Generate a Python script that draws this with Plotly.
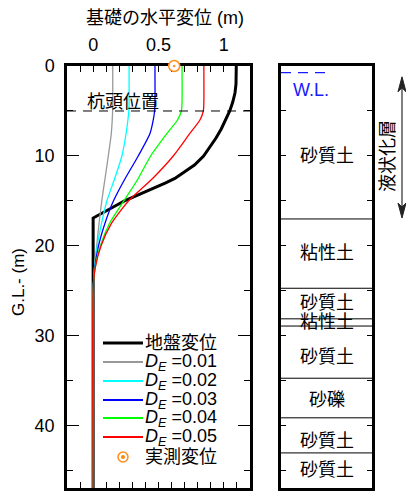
import plotly.graph_objects as go

# ---------------- data ----------------
depth_grid = [0, 4, 5, 6, 7.5, 10, 12.5, 15, 17.5, 20, 22.5, 25, 47]
de_values = ["0.01", "0.02", "0.03", "0.04", "0.05"]
disp_de001 = [0.150, 0.150, 0.149, 0.146, 0.139, 0.116, 0.091, 0.066, 0.045, 0.027, 0.010, 0.0, 0.0]
disp_de002 = [0.275, 0.275, 0.273, 0.266, 0.252, 0.220, 0.165, 0.105, 0.064, 0.031, 0.010, 0.0, 0.0]
disp_de003 = [0.473, 0.473, 0.470, 0.460, 0.435, 0.345, 0.245, 0.155, 0.090, 0.041, 0.012, 0.0, 0.0]
disp_de004 = [0.680, 0.680, 0.675, 0.645, 0.565, 0.440, 0.345, 0.235, 0.125, 0.055, 0.014, 0.0, 0.0]
disp_de005 = [0.847, 0.847, 0.843, 0.817, 0.740, 0.613, 0.455, 0.270, 0.140, 0.060, 0.015, 0.0, 0.0]
de_series = [disp_de001, disp_de002, disp_de003, disp_de004, disp_de005]
de_colors = ["#999999", "#00FFFF", "#0000FF", "#00FF00", "#FF0000"]

ground_depth = [0, 2, 3, 4, 5, 6, 7, 8, 9, 10, 11, 12, 12.5, 13, 13.5, 14, 14.5, 15, 15.5, 16, 16.5, 16.9, 47]
ground_disp = [1.095, 1.093, 1.085, 1.068, 1.045, 1.015, 0.980, 0.940, 0.895, 0.845, 0.775, 0.680,
               0.625, 0.555, 0.475, 0.395, 0.315, 0.240, 0.175, 0.115, 0.055, 0.0, 0.0]

measured_depth = [0]
measured_disp = [0.62]

pile_head_depth = 5
wl_depth = 0.74
boundary_depths = [17, 24.7, 28.1, 28.9, 34.7, 39.1, 43.0]
layer_names = ["砂質土", "粘性土", "砂質土", "粘性土", "砂質土", "砂礫", "砂質土", "砂質土"]
layer_label_depths = [10, 20.8, 26.3, 28.5, 32.3, 37.1, 41.7, 44.9]
liq_top, liq_bottom = 1.2, 16.9

x_ticks = [0, 0.5, 1]
x_tick_text = ["0", "0.5", "1"]
y_ticks = [0, 10, 20, 30, 40]
y_tick_text = ["0", "10", "20", "30", "40"]

legend_labels = ["地盤変位"] + ["<i>D</i><sub><i>E</i></sub> =" + v for v in de_values] + ["実測変位"]
legend_colors = ["black"] + de_colors
legend_widths = [3] + [2] * 5

FONT = "Liberation Sans, Arial, Noto Sans CJK JP, sans-serif"
FS = 18
DEPTH_MAX = 46.9
MARK_COLOR = "#FF8C1A"

# figure geometry (pixels)
W, H = 406, 491
PL, PR, PT, PB = 67, 372, 66, 488          # plot area in page pixels
PW, PH = PR - PL, PB - PT
ML, MT = PL, PT
MR, MB = W - PR, H - PB


def px(xp):
    return (xp - PL) / PW


def py(yp):
    return 1 - (yp - PT) / PH


fig = go.Figure()

# ground displacement
fig.add_trace(go.Scatter(x=ground_disp, y=ground_depth, mode="lines",
                         line=dict(color="black", width=3),
                         name="地盤変位", showlegend=False, xaxis="x", yaxis="y"))
for v, s, c in zip(de_values, de_series, de_colors):
    fig.add_trace(go.Scatter(x=s, y=depth_grid, mode="lines",
                             line=dict(color=c, width=1.3, shape="spline", smoothing=0.6),
                             name="D_E=" + v, showlegend=False,
                             xaxis="x", yaxis="y"))
# measured (white backing + symbol)
fig.add_trace(go.Scatter(x=measured_disp, y=measured_depth, mode="markers",
                         marker=dict(symbol="circle", size=11, color="white"),
                         showlegend=False, cliponaxis=False, hoverinfo="skip",
                         xaxis="x", yaxis="y"))
fig.add_trace(go.Scatter(x=measured_disp, y=measured_depth, mode="markers",
                         marker=dict(symbol="circle-open-dot", size=11, color=MARK_COLOR,
                                     line=dict(width=1.5, color=MARK_COLOR)),
                         name="実測変位", showlegend=False, cliponaxis=False,
                         xaxis="x", yaxis="y"))

# pile head dashed line
fig.add_trace(go.Scatter(x=[-0.2, 1.2], y=[pile_head_depth, pile_head_depth], mode="lines",
                         line=dict(color="black", width=1, dash="9px,7px"),
                         showlegend=False, hoverinfo="skip", xaxis="x", yaxis="y"))

# soil column boundaries
bx, by = [], []
for d in boundary_depths:
    bx += [0, 1, None]
    by += [d, d, None]
fig.add_trace(go.Scatter(x=bx, y=by, mode="lines", line=dict(color="black", width=1),
                         showlegend=False, hoverinfo="skip", xaxis="x2", yaxis="y2"))
# water level
fig.add_trace(go.Scatter(x=[0, 0.5], y=[wl_depth, wl_depth], mode="lines",
                         line=dict(color="#1a1aff", width=1.2, dash="10px,7px"),
                         showlegend=False, hoverinfo="skip", xaxis="x2", yaxis="y2"))

C = dict(xanchor="center", yanchor="middle", showarrow=False)
annotations = []
shapes = []
for name, d in zip(layer_names, layer_label_depths):
    annotations.append(dict(x=0.5, y=d, xref="x2", yref="y2", text=name,
                            font=dict(size=FS, color="black", family=FONT), **C))
annotations.append(dict(x=0.335, y=2.7, xref="x2", yref="y2", text="W.L.",
                        font=dict(size=FS, color="#1a1aff", family=FONT), **C))
annotations.append(dict(x=0.23, y=4.0, xref="x", yref="y", text="杭頭位置",
                        font=dict(size=FS, color="black", family=FONT), **C))

# liquefaction double arrow: shaft + two heads
AX = px(402)
shapes.append(dict(type="line", xref="paper", yref="y2", x0=AX, x1=AX,
                   y0=liq_top + 0.6, y1=liq_bottom - 0.6,
                   line=dict(color="#555555", width=1.5)))
shapes.append(dict(type="path", xref="paper", yref="y2", xsizemode="pixel", ysizemode="pixel",
                   xanchor=AX, yanchor=liq_top, path="M-4,-15 L0,0 L4,-15 L0,-11 Z",
                   fillcolor="#222222", line=dict(color="#222222", width=1)))
shapes.append(dict(type="path", xref="paper", yref="y2", xsizemode="pixel", ysizemode="pixel",
                   xanchor=AX, yanchor=liq_bottom, path="M-4,15 L0,0 L4,15 L0,11 Z",
                   fillcolor="#222222", line=dict(color="#222222", width=1)))
annotations.append(dict(x=px(388), y=10, xref="paper", yref="y2", text="液状化層",
                        textangle=-90, font=dict(size=FS, color="black", family=FONT), **C))
# axis titles
annotations.append(dict(x=px(165), y=py(18), xref="paper", yref="paper",
                        text="基礎の水平変位 (m)",
                        font=dict(size=FS, color="black", family=FONT), **C))
annotations.append(dict(x=px(18), y=py(282), xref="paper", yref="paper",
                        text="G.L.- (m)", textangle=-90,
                        font=dict(size=FS - 1, color="black", family=FONT), **C))

# legend (drawn manually to match the compact row spacing)
row_y = [343, 362, 381, 400, 418, 437, 457]
for i, lab in enumerate(legend_labels):
    yy = py(row_y[i])
    if i < len(legend_colors):
        shapes.append(dict(type="line", xref="paper", yref="paper", x0=px(103), x1=px(143),
                           y0=yy, y1=yy, line=dict(color=legend_colors[i], width=legend_widths[i])))
    else:
        shapes.append(dict(type="circle", xref="paper", yref="paper", xsizemode="pixel",
                           ysizemode="pixel", xanchor=px(123), yanchor=yy,
                           x0=-5, x1=5, y0=-5, y1=5, line=dict(color=MARK_COLOR, width=1.5)))
        shapes.append(dict(type="circle", xref="paper", yref="paper", xsizemode="pixel",
                           ysizemode="pixel", xanchor=px(123), yanchor=yy,
                           x0=-1.6, x1=1.6, y0=-1.6, y1=1.6, fillcolor=MARK_COLOR,
                           line=dict(color=MARK_COLOR, width=1)))
    annotations.append(dict(x=px(143), y=yy, xref="paper", yref="paper", text=lab,
                            xanchor="left", yanchor="middle", showarrow=False,
                            font=dict(size=FS, color="black", family=FONT)))

fig.update_layout(
    width=W, height=H,
    margin=dict(l=ML, r=MR, t=MT, b=MB, autoexpand=False),
    paper_bgcolor="white", plot_bgcolor="white",
    font=dict(family=FONT, size=FS, color="black"),
    showlegend=False,
    hovermode=False,
    annotations=annotations,
    shapes=shapes,
    xaxis=dict(domain=[0, (250 - PL) / PW], range=[-0.2, 1.2], side="top",
               tickvals=x_ticks, ticktext=x_tick_text, ticks="inside", ticklen=6,
               tickwidth=1, tickcolor="black", showgrid=False, zeroline=False,
               showline=True, linewidth=2.5, linecolor="black", mirror="allticks",
               minor=dict(dtick=0.1, tick0=0, ticks="inside", ticklen=6, tickwidth=1,
                          tickcolor="black", showgrid=False),
               ticklabelstandoff=5, layer="below traces", anchor="y",
               tickfont=dict(size=FS, family=FONT)),
    yaxis=dict(domain=[0, 1], range=[DEPTH_MAX, 0], tickvals=y_ticks, ticktext=y_tick_text,
               ticks="inside", ticklen=12, tickwidth=1, tickcolor="black",
               showgrid=False, zeroline=False, showline=True, linewidth=2.5,
               linecolor="black", mirror="allticks",
               minor=dict(dtick=5, tick0=0, ticks="inside", ticklen=6, tickwidth=1,
                          tickcolor="black", showgrid=False),
               ticklabelstandoff=6, layer="below traces", anchor="x",
               tickfont=dict(size=FS, family=FONT)),
    xaxis2=dict(domain=[(281 - PL) / PW, 1], range=[0, 1], showticklabels=False, ticks="",
                showgrid=False, zeroline=False, showline=True, linewidth=2.5,
                linecolor="black", mirror=True, anchor="y2", fixedrange=True),
    yaxis2=dict(domain=[0, 1], range=[DEPTH_MAX, 0], dtick=5, tick0=0, showticklabels=False,
                ticks="inside", ticklen=5, tickwidth=1, tickcolor="black", showgrid=False,
                zeroline=False, showline=True, linewidth=2.5, linecolor="black",
                mirror="allticks", anchor="x2"),
)

fig.write_html(
    "out.html",
    config={"displayModeBar": False},
    post_script=("document.documentElement.style.overflow='hidden';"
                 "document.body.style.margin='0';document.body.style.overflow='hidden';"),
)
